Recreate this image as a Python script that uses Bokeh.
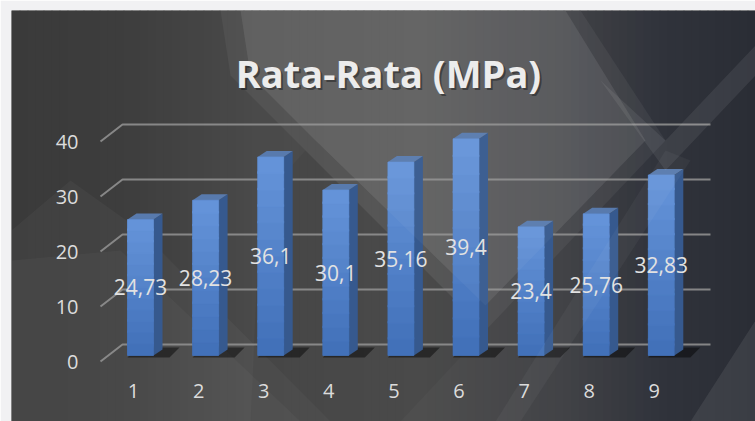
from bokeh.plotting import figure
from bokeh.models import Range1d, ColumnDataSource
from bokeh.core.properties import value
from bokeh.embed import file_html
from bokeh.resources import INLINE

# ---- data ----
categories = [1, 2, 3, 4, 5, 6, 7, 8, 9]
values = [24.73, 28.23, 36.1, 30.1, 35.16, 39.4, 23.4, 25.76, 32.83]
y_ticks = [0, 10, 20, 30, 40]
x_tick_labels = [str(c) for c in categories]
title_text = "Rata-Rata (MPa)"

# ---- pixel <-> data helpers (layout only) ----
W, H = 755, 421
LEFT, TOP = 11, 10
X0, SX = 140.0, 65.1   # pixel of category 1, pixels per category
Y0, SY = 355.0, 5.5    # pixel of value 0 (front plane), pixels per unit


def dx(px):
    return 1 + (px - X0) / SX


def dy(py):
    return (Y0 - py) / SY


def ux(px):
    return px / SX


def uy(py):
    return py / SY


def mix(c1, c2, t):
    return "#%02x%02x%02x" % tuple(round(a + (b - a) * t) for a, b in zip(c1, c2))


p = figure(width=W, height=H, output_backend="svg", toolbar_location=None,
           x_range=Range1d(dx(LEFT), dx(W)), y_range=Range1d(dy(H), dy(TOP)),
           x_axis_location=None, y_axis_location=None,
           min_border_left=LEFT, min_border_top=TOP, min_border_right=0,
           min_border_bottom=0, border_fill_color="#f1f1f3",
           background_fill_color="#3f3f3f", outline_line_color=None)
p.grid.visible = False

# ---- background gradient strips ----
key_px = [11, 120, 260, 420, 560, 660, 755]
key_col = [(0x3a, 0x3a, 0x3a), (0x3d, 0x3d, 0x3d), (0x4a, 0x4a, 0x4a),
           (0x4e, 0x4e, 0x4e), (0x42, 0x43, 0x47), (0x30, 0x33, 0x3b),
           (0x2a, 0x2d, 0x35)]


def col_at(px):
    for k in range(len(key_px) - 1):
        if key_px[k] <= px <= key_px[k + 1]:
            t = (px - key_px[k]) / (key_px[k + 1] - key_px[k])
            return mix(key_col[k], key_col[k + 1], t)
    return mix(key_col[-1], key_col[-1], 0)


step = 8
lefts = list(range(LEFT, W, step))
p.quad(left=[dx(a) for a in lefts], right=[dx(min(a + step + 1, W)) for a in lefts],
       bottom=dy(H), top=dy(TOP), fill_color=[col_at(a + step / 2) for a in lefts],
       line_color=None)


def poly(pts, color, alpha):
    p.patch([dx(a) for a, b in pts], [dy(b) for a, b in pts], fill_color=color,
            fill_alpha=alpha, line_color=None)


# decorative translucent facets (behind bars), layered for soft edges
facet = [(220, 10), (580, 10), (665, 140), (485, 330), (305, 150), (230, 75)]
facet_in = [(240, 10), (565, 10), (645, 140), (485, 305), (315, 140), (250, 75)]
poly(facet, "white", 0.05)
poly(facet_in, "white", 0.05)
poly([(11, 230), (11, 421), (330, 421), (140, 230), (70, 180)], "white", 0.035)
poly([(11, 260), (11, 421), (300, 421), (120, 250)], "white", 0.03)
poly([(305, 150), (485, 330), (400, 421), (250, 421), (260, 200)], "black", 0.05)

# ---- back-wall gridlines ----
p.multi_line(xs=[[dx(100), dx(122), dx(710)] for t in y_ticks],
             ys=[[t - uy(6), t + uy(11), t + uy(11)] for t in y_ticks],
             line_color="#8f8f8f", line_width=2, line_alpha=0.9)

# ---- bars (pseudo 3D) ----
hw = ux(13)
ddx, ddy = ux(9), uy(6)
x0 = [c - hw for c in categories]
x1 = [c + hw for c in categories]

# floor shadows
p.patches(xs=[[a, b + ux(16), b + ux(26), a + ddx] for a, b in zip(x0, x1)],
          ys=[[-uy(2), -uy(2), uy(8), uy(8)] for _ in categories],
          fill_color="black", fill_alpha=0.45, line_color=None)

# side faces
p.patches(xs=[[b, b + ddx, b + ddx, b] for b in x1],
          ys=[[0, ddy, v + ddy, v] for v in values],
          fill_color="#36598e", line_color=None)
# top faces
p.patches(xs=[[a, b, b + ddx, a + ddx] for a, b in zip(x0, x1)],
          ys=[[v, v, v + ddy, v + ddy] for v in values],
          fill_color="#587aad", line_color=None)

# front faces, with a vertical gradient built from stacked, overlapping slices
src = ColumnDataSource(dict(x=categories, top=values, x0=x0, x1=x1))
p.quad(left="x0", right="x1", bottom=0, top="top", source=src,
       fill_color="#4a7bc4", line_color=None)
n_slices = 12
bottom_col, top_col = (0x40, 0x6f, 0xb8), (0x66, 0x95, 0xda)
sl_l, sl_r, sl_b, sl_t, sl_c = [], [], [], [], []
for a, b, v in zip(x0, x1, values):
    for k in range(n_slices):
        sl_l.append(a)
        sl_r.append(b)
        sl_b.append(v * k / n_slices)
        sl_t.append(min(v, v * (k + 1) / n_slices + uy(2)))
        sl_c.append(mix(bottom_col, top_col, (k + 0.5) / n_slices))
p.quad(left=sl_l, right=sl_r, bottom=sl_b, top=sl_t, fill_color=sl_c,
       line_color=sl_c, line_width=0.6)

# translucent facets over bars
poly(facet_in, "white", 0.04)
poly([(600, 80), (665, 140), (755, 45), (755, 75), (665, 170)], "white", 0.07)
poly([(755, 320), (755, 421), (690, 421)], "white", 0.08)
poly([(665, 150), (690, 160), (520, 421), (495, 421)], "white", 0.04)

# ---- texts ----
txt_col = "#dcdcdc"
p.text(x=[dx(78)] * len(y_ticks), y=[t - uy(6) for t in y_ticks],
       text=[str(t) for t in y_ticks], text_align="right", text_baseline="middle",
       text_font=value("Open Sans"), text_font_size="20px", text_color=txt_col)
p.text(x=[c - ux(7) for c in categories], y=[dy(390)] * len(categories),
       text=x_tick_labels, text_align="center", text_baseline="middle",
       text_font=value("Open Sans"), text_font_size="20px", text_color=txt_col)
p.text(x=categories, y=[v / 2 for v in values],
       text=[("%g" % v).replace(".", ",") for v in values],
       text_align="center", text_baseline="middle",
       text_font=value("Open Sans"), text_font_size="21px", text_color="#e2e2e2")

# title with soft shadow
p.text(x=[dx(390)], y=[dy(74)], text=[title_text], text_align="center",
       text_baseline="alphabetic", text_font=value("Open Sans"),
       text_font_size="38px", text_font_style="bold", text_color="black", text_alpha=0.35)
p.text(x=[dx(388)], y=[dy(72)], text=[title_text], text_align="center",
       text_baseline="alphabetic", text_font=value("Open Sans"),
       text_font_size="38px", text_font_style="bold", text_color="#ececec")

open("out.html", "w").write(file_html(p, INLINE))
